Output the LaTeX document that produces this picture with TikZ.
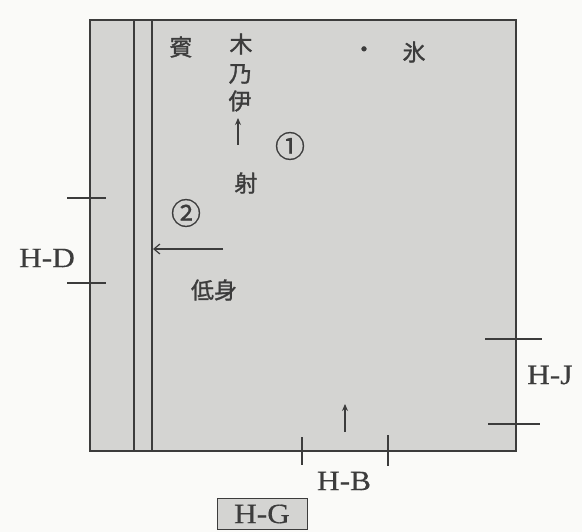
\documentclass[tikz,border=0pt]{standalone}
\usepackage{fontspec}
\setmainfont{Liberation Serif}
\newfontfamily\lblfont[FakeStretch=1.12,FakeBold=0.4]{Liberation Serif}
\newfontfamily\cjk[FakeBold=1.2]{Noto Sans CJK JP}
\newfontfamily\cjkc[FakeBold=0.8]{Noto Sans CJK JP}
\usetikzlibrary{arrows.meta}
\definecolor{paper}{RGB}{250,250,248}
\definecolor{panel}{RGB}{212,212,210}
\definecolor{ink}{RGB}{60,60,60}
\tikzset{
  lbl/.style={font=\lblfont\fontsize{28}{30}\selectfont, text=ink, inner sep=0pt},
  kanji/.style={font=\cjk\fontsize{23}{25}\selectfont, text=ink, inner sep=0pt},
  circnum/.style={font=\cjkc\fontsize{30}{32}\selectfont, text=ink, inner sep=0pt},
  edge/.style={draw=ink, line width=1.6pt},
  thin/.style={draw=ink, line width=1.2pt},
  tick/.style={draw=ink, line width=1.4pt},
  arr/.style={draw=ink, line width=1.2pt, -{Straight Barb[length=6pt,width=10pt]}},
  uparr/.style={draw=ink, line width=1.4pt, -{Stealth[length=7pt,width=6pt]}}
}
\begin{document}
\begin{tikzpicture}[x=1pt,y=-1pt]
\useasboundingbox[fill=paper] (0,0) rectangle (582,532);
% main panel
\path[fill=panel] (90,20) rectangle (516,451);
\draw[edge] (90,20) rectangle (516,451);
\draw[thin] (134,20) -- (134,451);
\draw[thin] (152,20) -- (152,451);
% H-D ticks
\coordinate (d1a) at (67,198); \coordinate (d1b) at (106,198);
\coordinate (d2a) at (67,283); \coordinate (d2b) at (106,283);
\draw[tick] (d1a) -- (d1b);
\draw[tick] (d2a) -- (d2b);
\node[lbl] (hd) at (47,258) {H-D};
% H-J ticks
\coordinate (j1a) at (485,339); \coordinate (j1b) at (542,339);
\coordinate (j2a) at (488,424); \coordinate (j2b) at (540,424);
\draw[tick] (j1a) -- (j1b);
\draw[tick] (j2a) -- (j2b);
\node[lbl, anchor=west] (hj) at (527,375) {H-J};
% H-B ticks
\coordinate (b1a) at (302,437); \coordinate (b1b) at (302,465);
\coordinate (b2a) at (388,435); \coordinate (b2b) at (388,466);
\draw[tick] (b1a) -- (b1b);
\draw[tick] (b2a) -- (b2b);
\node[lbl] (hb) at (344,481) {H-B};
\coordinate (ub0) at (345,432); \coordinate (ub1) at (345,404);
\draw[uparr] (ub0) -- (ub1);
% H-G box
\node[lbl, fill=panel, draw=ink, line width=0.8pt, minimum width=90pt, minimum height=31pt] (hg) at (262,514) {H-G};
% left arrow
\coordinate (la0) at (223,249); \coordinate (la1) at (153,249);
\draw[arr] (la0) -- (la1);
\node[circnum] (n2) at (186,213) {②};
\node[kanji] (teishin) at (214,290) {低身};
% top texts
\node[kanji] (hin) at (181,47) {賓};
\node[kanji] (ki) at (241,44) {木};
\node[kanji] (no) at (240,74) {乃};
\node[kanji] (i) at (240,101) {伊};
\coordinate (ua0) at (238,145); \coordinate (ua1) at (238,118);
\draw[uparr] (ua0) -- (ua1);
\node[kanji] (sha) at (246,183) {射};
\node[circnum] (n1) at (290,146) {①};
\node[kanji] (dot) at (364,52) {・};
\node[kanji] (kori) at (414,52) {氷};
\end{tikzpicture}
\end{document}
